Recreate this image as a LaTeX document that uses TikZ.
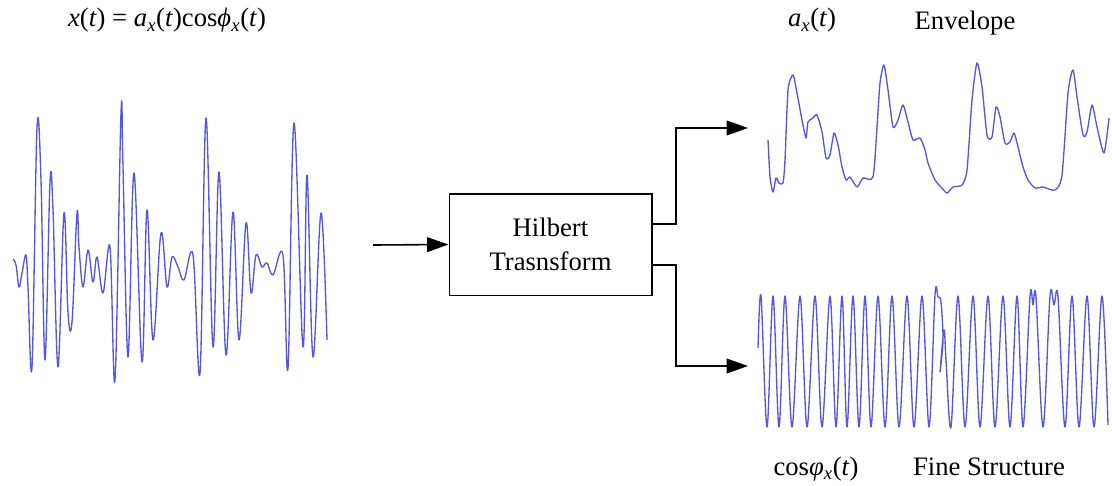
\documentclass[tikz,border=0pt]{standalone}
\usepackage{fontspec}
\setmainfont{Liberation Serif}
\usetikzlibrary{arrows.meta}
\definecolor{wave}{RGB}{85,85,225}
\tikzset{
  sig/.style={draw=wave, line width=1pt, line join=round},
  blockbox/.style={draw, line width=1pt, minimum width=152pt, minimum height=76pt, align=center, font=\fontsize{20}{25}\selectfont, inner sep=0pt},
  arr/.style={line width=1.2pt, -{Triangle[length=16pt,width=11pt]}},
  lbl/.style={font=\fontsize{20}{24}\selectfont, inner sep=0pt, anchor=base}
}
\begin{document}
\begin{tikzpicture}[x=0.75pt,y=-0.75pt]
\useasboundingbox (0,0) rectangle (1112,485);

% labels
\node[lbl] (fx) at (167,27) {\textit{x}(\textit{t}) = \textit{a}\textsubscript{\textit{x}}(\textit{t})cos\textit{ϕ}\textsubscript{\textit{x}}(\textit{t})};
\node[lbl] (ax) at (812,27) {\textit{a}\textsubscript{\textit{x}}(\textit{t})};
\node[lbl] (env) at (965,30) {Envelope};
\node[lbl] (cp) at (816,475) {cos\textit{φ}\textsubscript{\textit{x}}(\textit{t})};
\node[lbl] (fs) at (989,475) {Fine Structure};

% block
\node[blockbox] (ht) at (550.5,244.5) {Hilbert\\Trasnsform};

\coordinate (in) at (373,245);
\coordinate (e1) at (652,224);
\coordinate (e2) at (652,265);
\coordinate (t1) at (748,128);
\coordinate (t2) at (748,366);
\draw[arr] (in) -- (ht.west);
\draw[arr] (e1) -- ++(24,0) |- (t1);
\draw[arr] (e2) -- ++(24,0) |- (t2);

% input signal
\draw[sig] plot[smooth, tension=0.6] coordinates {
(13,259) (16,265) (19,287) (22,273) (26,255) (28,287) (32,367) (37,128) (41,180)
(45,360) (50,182) (53,210) (58,367) (64,213) (68,313) (72,322) (77,213) (79,247)
(83,287) (88,250) (93,282) (97,257) (103,293) (110,247) (115,380) (121,113)
(123,167) (128,357) (134,173) (142,362) (147,210) (153,340) (161,233) (167,287)
(172,257) (178,267) (184,280) (193,255) (200,373) (206,118) (213,347) (219,172)
(226,355) (233,212) (239,340) (246,223) (251,293) (256,255) (262,267) (267,263)
(273,275) (283,255) (288,368) (294,123) (303,347) (307,175) (313,357) (321,213)
(327,340)};

% envelope
\draw[sig] plot[smooth, tension=0.4] coordinates {
(768,140) (770,177) (773,192) (776,178) (779,183) (783,183) (785,160) (788,90)
(793,75) (797,93) (802,120) (806,138) (808,122) (813,118) (817,115) (822,132)
(826,158) (830,155) (834,133) (838,145) (842,167) (846,180) (850,177) (857,187)
(863,178) (873,177) (877,127) (880,83) (884,65) (888,90) (893,127) (898,120)
(903,105) (908,122) (913,140) (920,138) (925,150) (928,163) (935,180) (942,188)
(947,193) (953,187) (962,185) (967,170) (972,100) (977,63) (982,87) (987,135)
(992,137) (996,107) (1000,117) (1005,143) (1010,142) (1014,133) (1018,147)
(1023,167) (1028,180) (1035,188) (1043,187) (1055,190) (1062,175) (1068,93)
(1073,70) (1077,97) (1083,135) (1087,132) (1092,105) (1097,127) (1104,153)
(1109,118)};

% fine structure
\draw[sig] plot[smooth, tension=0.55] coordinates {
(758,348) (761,296) (767,427) (773,296) (779,427) (785,296) (792,427) (800,296)
(807,427) (815,296) (822,427) (830,296) (836,427) (842,296) (847,427) (853,296)
(859,427) (865,296) (871,427) (878,296) (885,427) (892,296) (899,427) (907,296)
(914,427) (922,296) (929,427) (935,295) (938,297) (941,302) (943,340) (940,372)
(944,330) (946,360) (951,427) (958,296) (965,427) (973,296) (980,427) (988,296)
(995,427) (1003,296) (1010,427) (1017,296) (1023,427) (1030,296) (1033,305)
(1036,297) (1043,427) (1050,296) (1054,305) (1058,297) (1065,427) (1072,296)
(1079,427) (1087,296) (1094,427) (1102,296) (1108,425)};
\end{tikzpicture}
\end{document}
